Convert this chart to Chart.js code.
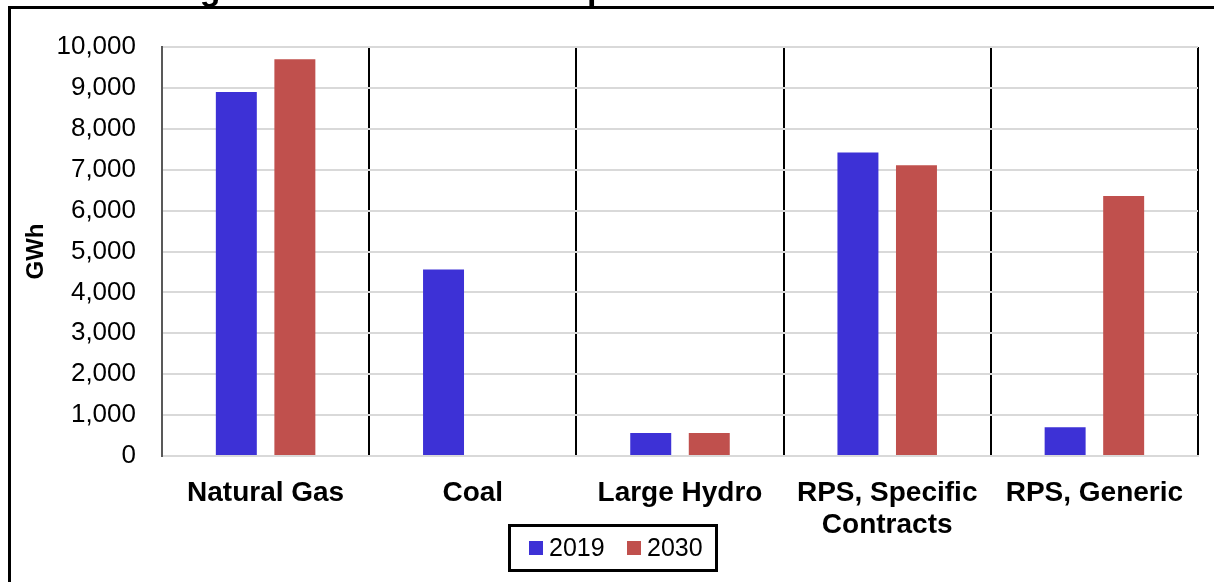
<!DOCTYPE html>
<html>
<head>
<meta charset="utf-8">
<script src="https://cdn.jsdelivr.net/npm/chart.js@4"></script>
<style>
  html, body { margin: 0; padding: 0; background: #fff; }
  #wrap { position: relative; width: 1214px; height: 582px; overflow: hidden; }
  #chart { position: absolute; left: 0; top: 0; }
  #frame { position: absolute; left: 8px; top: 6px; width: 1300px; height: 700px;
           border: 3px solid #000; pointer-events: none; }
  #cap { position: absolute; left: 0; top: 0; width: 1214px; height: 8px; overflow: hidden; }
  #cap span { position: absolute; left: -20px; width: 1214px; top: -29px; text-align: center; white-space: nowrap;
              font: bold 34px "Liberation Sans", Arial, sans-serif; line-height: 34px; color: #000; }
</style>
</head>
<body>
<div id="wrap">
  <canvas id="chart" width="1214" height="582"></canvas>
  <div id="cap"><span>Figure 8: Generation Comparison for 2019 and 2030</span></div>
  <div id="frame"></div>
</div>
<script>
const categories = ['Natural Gas', 'Coal', 'Large Hydro', ['RPS, Specific', 'Contracts'], 'RPS, Generic'];
const gwh2019 = [8900, 4560, 560, 7420, 700];
const gwh2030 = [9700, 0, 560, 7110, 6360];
const yTicks = [0, 1000, 2000, 3000, 4000, 5000, 6000, 7000, 8000, 9000, 10000];

const FONT = '"Liberation Sans", Arial, sans-serif';

// boxed legend under the axis labels (overlaps the label band, so drawn by hand)
const boxLegend = {
  id: 'boxLegend',
  afterDraw(chart) {
    const ctx = chart.ctx;
    const sets = chart.data.datasets;
    ctx.save();
    ctx.strokeStyle = '#000';
    ctx.lineWidth = 3;
    ctx.strokeRect(509.5, 525.5, 207, 45);
    ctx.font = '25px ' + FONT;
    ctx.textBaseline = 'middle';
    let x = 529;
    sets.forEach(ds => {
      ctx.fillStyle = ds.backgroundColor;
      ctx.fillRect(x, 541, 14, 14);
      ctx.fillStyle = '#000';
      ctx.fillText(ds.label, x + 20, 549);
      x += 98;
    });
    ctx.restore();
  }
};

new Chart(document.getElementById('chart'), {
  type: 'bar',
  data: {
    labels: categories,
    datasets: [
      { label: '2019', data: gwh2019, backgroundColor: '#3d31d6' },
      { label: '2030', data: gwh2030, backgroundColor: '#c0504d' }
    ]
  },
  options: {
    responsive: false,
    animation: false,
    devicePixelRatio: 1,
    layout: { padding: { left: 22, top: 47, right: 16, bottom: 34 } },
    datasets: { bar: { categoryPercentage: 0.565, barPercentage: 0.70, borderWidth: 0 } },
    plugins: {
      legend: { display: false },
      tooltip: { enabled: false }
    },
    scales: {
      x: {
        afterFit(s) { s.height = 92; },
        grid: {
          offset: true,
          drawTicks: false,
          lineWidth: 2,
          color: c => c.index === 0 ? '#595959' : '#000'
        },
        border: { color: '#d9d9d9', width: 2 },
        ticks: {
          color: '#000',
          padding: 21,
          maxRotation: 0,
          autoSkip: false,
          font: { family: FONT, size: 28, weight: 'bold', lineHeight: 1.15 }
        }
      },
      y: {
        min: 0,
        max: 10000,
        afterFit(s) { s.width = 140; },
        afterBuildTicks(s) { s.ticks = yTicks.map(v => ({ value: v })); },
        grid: { color: '#d9d9d9', lineWidth: 2, drawTicks: false },
        border: { color: '#595959', width: 2 },
        ticks: {
          color: '#000',
          padding: 26,
          font: { family: FONT, size: 26 },
          callback: v => v.toLocaleString('en-US')
        },
        title: {
          display: true,
          text: 'GWh',
          color: '#000',
          padding: { top: 0, bottom: 0 },
          font: { family: FONT, size: 24, weight: 'bold' }
        }
      }
    }
  },
  plugins: [boxLegend]
});
</script>
</body>
</html>
